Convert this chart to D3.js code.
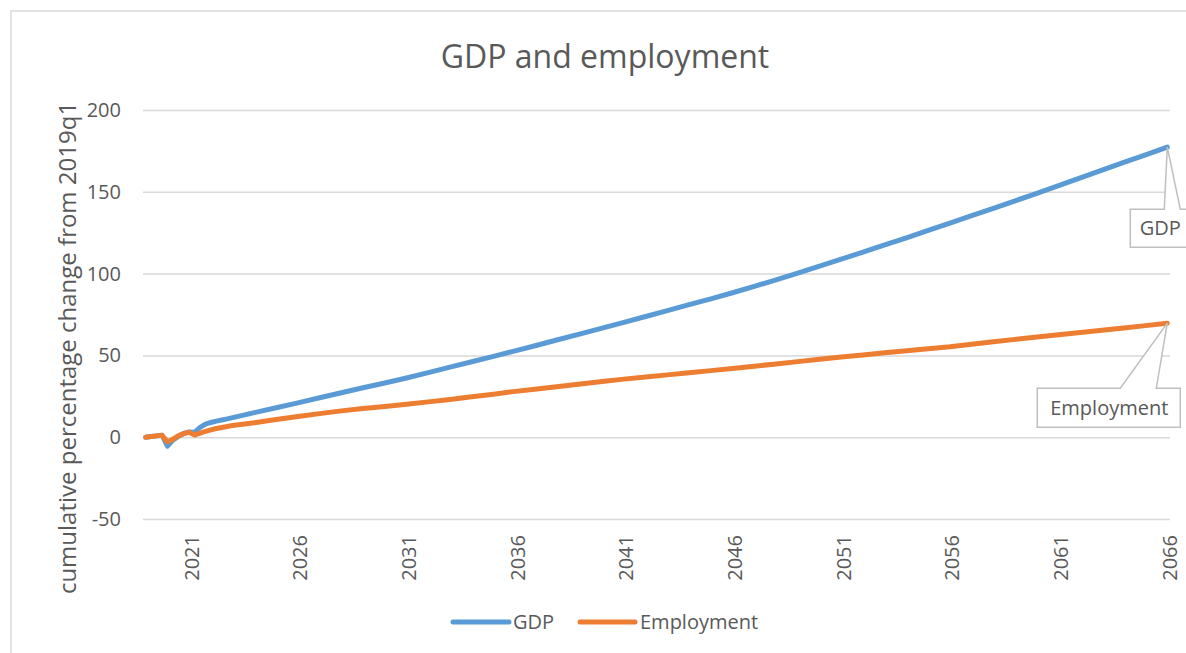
<!DOCTYPE html>
<html>
<head>
<meta charset="utf-8">
<script src="https://cdn.jsdelivr.net/npm/d3@7"></script>
<style>
  body { margin: 0; background: #fff; }
  text { font-family: "Open Sans", sans-serif; fill: #595959; }
</style>
</head>
<body>
<div id="chart"></div>
<script>
// quarterly through 2022, then first quarter of each year
var periods = ["2019q1","2019q2","2019q3","2019q4","2020q1","2020q2","2020q3","2020q4",
  "2021q1","2021q2","2021q3","2021q4","2022q1","2022q2","2022q3","2022q4",
  "2023q1","2024q1","2025q1","2026q1","2027q1","2028q1","2029q1","2030q1","2031q1",
  "2032q1","2033q1","2034q1","2035q1","2036q1","2037q1","2038q1","2039q1","2040q1","2041q1",
  "2042q1","2043q1","2044q1","2045q1","2046q1","2047q1","2048q1","2049q1","2050q1","2051q1",
  "2052q1","2053q1","2054q1","2055q1","2056q1","2057q1","2058q1","2059q1","2060q1","2061q1",
  "2062q1","2063q1","2064q1","2065q1","2066q1"];

var gdp = [0, 0.4, 0.8, 1.2, -5.5, -1.8, 0.5, 2.3,
  3.2, 3, 6, 8, 9, 9.8, 10.5, 11.2,
  12, 15, 18, 21, 24.1, 27.2, 30.2, 33.1, 36.2,
  39.5, 42.8, 46.1, 49.4, 52.8, 56.2, 59.7, 63.2, 66.7, 70.2,
  73.8, 77.4, 81, 84.6, 88.3, 92.2, 96.2, 100.3, 104.5, 108.8,
  113.1, 117.5, 121.9, 126.4, 130.9, 135.4, 139.9, 144.5, 149.1, 153.8,
  158.5, 163.2, 168, 172.6, 177.3];

var employment = [0, 0.4, 0.8, 1.2, -2.8, -1.2, 0.8, 2.2,
  3, 1.3, 2.5, 3.5, 4.5, 5.3, 5.9, 6.5,
  7.2, 8.8, 10.8, 12.6, 14.4, 16.1, 17.6, 18.8, 20.1,
  21.6, 23.1, 24.7, 26.3, 28, 29.5, 31, 32.5, 34, 35.5,
  36.8, 38.1, 39.4, 40.7, 42, 43.4, 44.8, 46.2, 47.6, 49,
  50.3, 51.6, 52.9, 54.1, 55.3, 56.8, 58.3, 59.8, 61.2, 62.6,
  64, 65.4, 66.8, 68.2, 69.7];

var yTicks = [-50, 0, 50, 100, 150, 200];
var xTickYears = ["2021","2026","2031","2036","2041","2046","2051","2056","2061","2066"];

var seriesNames = ["GDP", "Employment"];
var colors = ["#5b9bd5", "#ed7d31"];

function periodIndex(p) {
  return (+p.slice(0, 4) - 2019) * 4 + (+p.slice(5) - 1);
}

var w = 1186, h = 653;
var plotLeft = 143, plotRight = 1170, plotTop = 110, plotBottom = 519;
var lastIndex = periodIndex("2066q1");

var svg = d3.select("#chart").append("svg")
  .attr("width", w)
  .attr("height", h);

// chart border
svg.append("rect")
  .attr("x", 11).attr("y", 11)
  .attr("width", 1200).attr("height", 660)
  .attr("fill", "none")
  .attr("stroke", "#d9d9d9")
  .attr("stroke-width", 1.5);

var xScale = d3.scaleLinear()
  .domain([-0.5, lastIndex + 0.5])
  .range([plotLeft, plotRight]);

var yScale = d3.scaleLinear()
  .domain([-50, 200])
  .range([plotBottom, plotTop]);

// title
svg.append("text")
  .attr("x", 605)
  .attr("y", 68)
  .style("text-anchor", "middle")
  .style("font-size", "32px")
  .text("GDP and employment");

// y axis with gridlines
var yAxis = svg.append("g")
  .attr("transform", "translate(" + plotLeft + ",0)")
  .call(d3.axisLeft(yScale)
    .tickValues(yTicks)
    .tickFormat(d => String(d))
    .tickSize(-(plotRight - plotLeft))
    .tickPadding(22));
yAxis.select(".domain").remove();
yAxis.selectAll("line").attr("stroke", "#d9d9d9").attr("stroke-width", 1.5);
yAxis.selectAll("text")
  .style("font-size", "20px")
  .style("font-family", "'Open Sans', sans-serif")
  .attr("fill", "#595959");

// x axis labels
var xAxis = svg.append("g")
  .attr("transform", "translate(0," + plotBottom + ")")
  .call(d3.axisBottom(xScale)
    .tickValues(xTickYears.map(d => periodIndex(d + "q1")))
    .tickFormat((d, i) => xTickYears[i])
    .tickSize(0));
xAxis.select(".domain").remove();
xAxis.selectAll("text")
  .attr("text-anchor", "end")
  .attr("transform", "rotate(-90)")
  .attr("x", -16)
  .attr("y", 2)
  .attr("dy", "0.35em")
  .style("font-size", "20px")
  .style("font-family", "'Open Sans', sans-serif")
  .attr("fill", "#595959");

// y axis title
svg.append("text")
  .attr("transform", "translate(76,348)rotate(-90)")
  .style("text-anchor", "middle")
  .style("font-size", "24px")
  .text("cumulative percentage change from 2019q1");

// lines
var line = d3.line()
  .x((d, i) => xScale(periodIndex(periods[i])))
  .y(d => yScale(d));

[gdp, employment].forEach(function(values, k) {
  svg.append("path")
    .datum(values)
    .attr("fill", "none")
    .attr("stroke", colors[k])
    .attr("stroke-width", 5)
    .attr("stroke-linejoin", "round")
    .attr("stroke-linecap", "round")
    .attr("d", line);
});

// callout data labels at the last point
function callout(value, box, name) {
  var tx = xScale(lastIndex), ty = yScale(value);
  var b = {
    l: tx + box.dl, r: tx + box.dr, t: ty + box.dt, b: ty + box.db,
    w1: tx + box.w1, w2: tx + box.w2
  };
  var p = d3.path();
  p.moveTo(b.l, b.t);
  p.lineTo(b.w1, b.t);
  p.lineTo(tx, ty);
  p.lineTo(b.w2, b.t);
  p.lineTo(b.r, b.t);
  p.lineTo(b.r, b.b);
  p.lineTo(b.l, b.b);
  p.closePath();
  svg.append("path")
    .attr("d", p.toString())
    .attr("fill", "#fff")
    .attr("stroke", "#bfbfbf")
    .attr("stroke-width", 1.5);
  svg.append("text")
    .attr("x", tx + box.tx)
    .attr("y", (b.t + b.b) / 2)
    .attr("dy", "0.35em")
    .style("text-anchor", "middle")
    .style("font-size", "20px")
    .text(name);
}

callout(gdp[gdp.length - 1], {dl: -37, dr: 25, dt: 62, db: 100, w1: -3, w2: 13, tx: -7}, "GDP");
callout(employment[employment.length - 1], {dl: -130, dr: 13, dt: 65, db: 104, w1: -47, w2: -11, tx: -58}, "Employment");

// legend
var legendItems = [
  {x1: 453, x2: 509, tx: 513},
  {x1: 580, x2: 635, tx: 640}
];
var legend = svg.append("g");
legendItems.forEach(function(d, k) {
  legend.append("line")
    .attr("x1", d.x1).attr("x2", d.x2)
    .attr("y1", 622).attr("y2", 622)
    .attr("stroke", colors[k])
    .attr("stroke-width", 5)
    .attr("stroke-linecap", "round");
  legend.append("text")
    .attr("x", d.tx)
    .attr("y", 622)
    .attr("dy", "0.35em")
    .style("font-size", "20px")
    .text(seriesNames[k]);
});
</script>
</body>
</html>
